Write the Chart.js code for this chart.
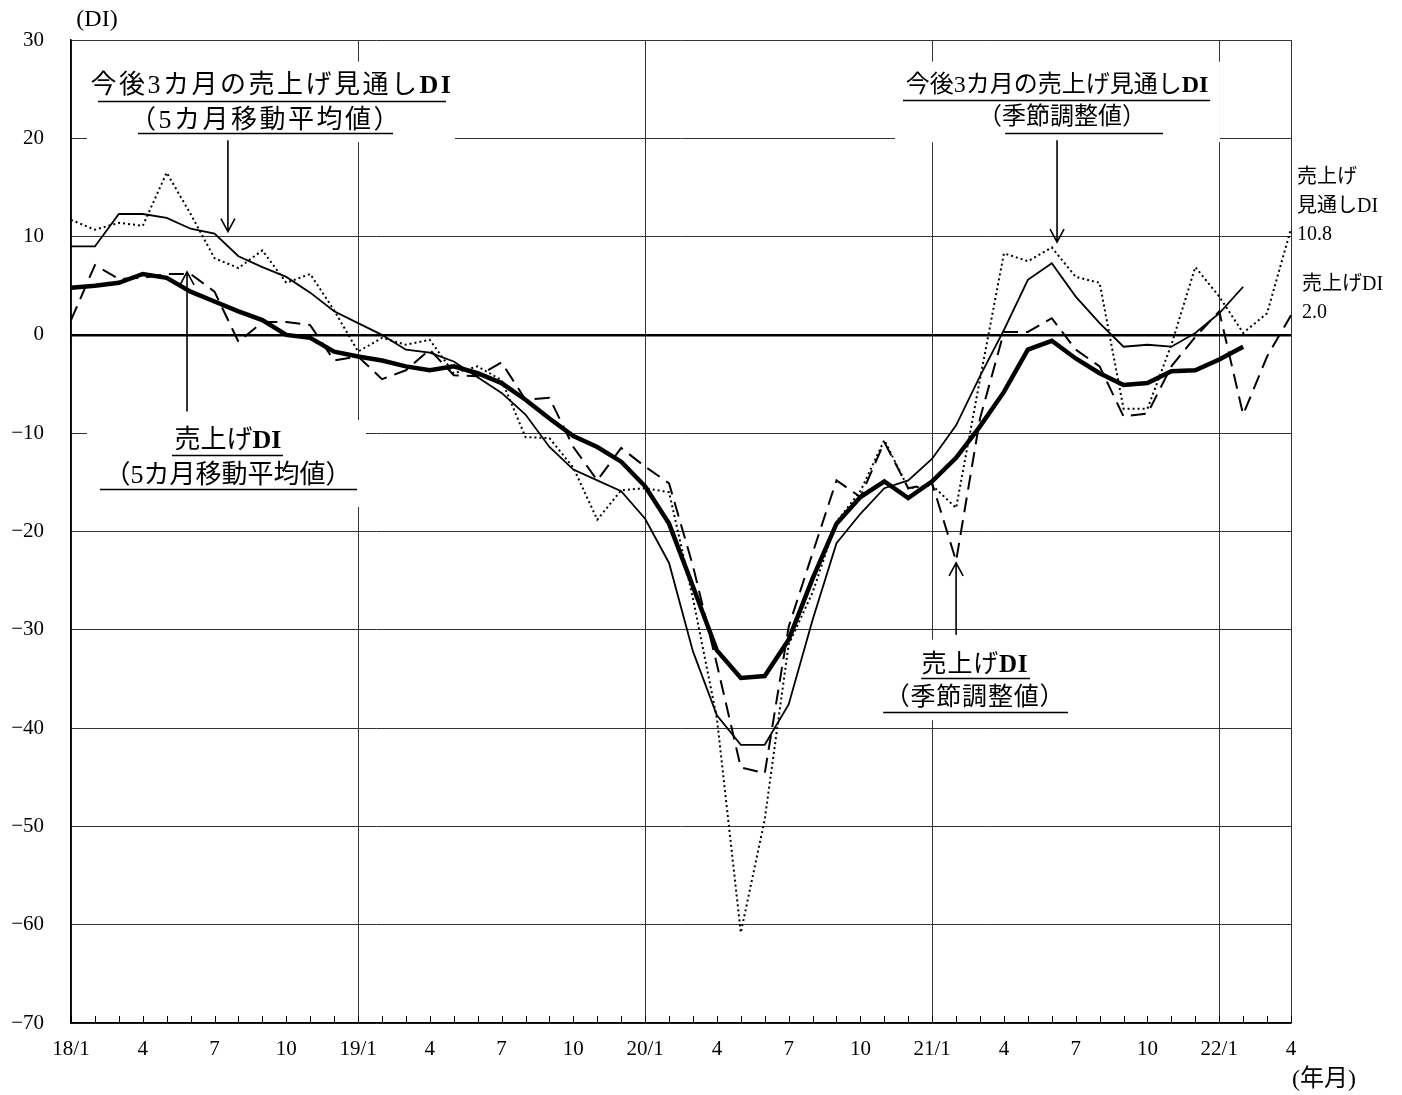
<!DOCTYPE html>
<html lang="ja">
<head>
<meta charset="utf-8">
<title>売上げDI</title>
<script src="https://cdn.jsdelivr.net/npm/chart.js@4.4.1/dist/chart.umd.min.js"></script>
<style>
    html, body { margin: 0; padding: 0; background: #fff; }
    #wrap { width: 1402px; height: 1095px; }
</style>
</head>
<body>
<div id="wrap"><canvas id="chartDI" width="1402" height="1095"></canvas></div>
<script>
// --- DATOS ---

const months = [
    '18/1', '18/2', '18/3', '18/4', '18/5', '18/6', '18/7', '18/8', '18/9', '18/10', '18/11', '18/12',
    '19/1', '19/2', '19/3', '19/4', '19/5', '19/6', '19/7', '19/8', '19/9', '19/10', '19/11', '19/12',
    '20/1', '20/2', '20/3', '20/4', '20/5', '20/6', '20/7', '20/8', '20/9', '20/10', '20/11', '20/12',
    '21/1', '21/2', '21/3', '21/4', '21/5', '21/6', '21/7', '21/8', '21/9', '21/10', '21/11', '21/12',
    '22/1', '22/2', '22/3', '22/4'
];

// 売上げDI（5カ月移動平均値） - thick line
const salesMA = [
    4.8, 5.0, 5.3, 6.2, 5.8, 4.4, 3.4, 2.4, 1.5, 0.0, -0.3, -1.7,
    -2.2, -2.6, -3.2, -3.6, -3.2, -3.9, -4.9, -6.6, -8.5, -10.3, -11.4, -12.9,
    -15.4, -19.2, -25.6, -32.1, -34.9, -34.7, -31.0, -24.8, -19.2, -16.5, -14.9, -16.6,
    -14.9, -12.5, -9.3, -5.8, -1.5, -0.6, -2.4, -3.9, -5.1, -4.9, -3.7, -3.6,
    -2.5, -1.2, null, null
];

// 今後3カ月の売上げ見通しDI（5カ月移動平均値） - thin line
const outlookMA = [
    9.0, 9.0, 12.3, 12.3, 11.9, 10.8, 10.3, 8.0, 6.9, 5.9, 4.3, 2.4,
    1.2, 0.0, -1.5, -1.8, -2.7, -4.3, -5.9, -8.1, -11.4, -13.7, -14.8, -15.9,
    -18.7, -23.2, -32.2, -38.7, -41.7, -41.7, -37.6, -29.0, -21.2, -18.2, -15.6, -14.8,
    -12.6, -9.2, -4.2, 0.5, 5.6, 7.3, 3.9, 1.2, -1.2, -1.0, -1.2, 0.2,
    2.2, 4.9, null, null
];

// 売上げDI（季節調整値） - dashed
const salesSA = [
    1.5, 7.1, 5.7, 5.8, 6.2, 6.2, 4.4, -0.7, 1.3, 1.3, 1.0, -2.6,
    -2.2, -4.5, -3.6, -1.5, -4.1, -4.2, -2.8, -6.6, -6.4, -11.4, -14.8, -11.5,
    -13.4, -15.1, -23.5, -33.5, -44.0, -44.6, -29.7, -22.2, -14.8, -16.5, -10.9, -15.6,
    -15.1, -23.0, -8.5, 0.3, 0.3, 1.7, -1.5, -3.2, -8.3, -8.0, -3.2, -0.2,
    2.4, -8.1, -2.2, 2.0
];

// 今後3カ月の売上げ見通しDI（季節調整値） - dotted
const outlookSA = [
    11.7, 10.7, 11.4, 11.1, 16.5, 12.3, 7.8, 6.8, 8.6, 5.3, 6.2, 2.5,
    -1.7, -0.3, -1.0, -0.5, -3.9, -3.2, -4.6, -10.4, -10.5, -13.5, -18.8, -15.8,
    -15.6, -16.0, -26.8, -39.0, -60.8, -49.3, -31.5, -26.2, -19.0, -15.9, -10.7, -15.6,
    -15.3, -17.6, -4.5, 8.3, 7.5, 8.9, 5.9, 5.3, -7.5, -7.5, -1.0, 6.9,
    3.9, 0.2, 2.2, 10.8
];

const yTicks = [-70, -60, -50, -40, -30, -20, -10, 0, 10, 20, 30];
const tickMonths = ['1', '4', '7', '10'];

// --- ANOTACIONES (posicion en unidades de datos: indice de mes, valor DI) ---

const notes = [
    {
        box: [0.67, 16.05, 27.8, 19.6], size: 26, spacing: 2.5,
        lines: [
            { parts: [['今後3カ月の売上げ見通し', false], ['DI', true]], x: 8.4, y: 25.3, ul: [1.13, 15.68, 23.8] },
            { parts: [['（5カ月移動平均値）', false]], x: 8.15, y: 21.75, ul: [2.8, 13.46, 20.5] }
        ],
        arrow: { x: 6.56, from: 19.8, to: 10.5 }
    },
    {
        box: [0.67, 12.33, -8.66, -17.5], size: 26, spacing: 0,
        lines: [
            { parts: [['売上げ', false], ['DI', true]], x: 6.56, y: -10.8, ul: [4.22, 8.86, -12.2] },
            { parts: [['（5カ月移動平均値）', false]], x: 6.56, y: -14.35, ul: [1.21, 11.96, -15.7] }
        ],
        arrow: { x: 4.85, from: -7.8, to: 6.4 }
    },
    {
        box: [34.45, 48.03, 27.8, 19.6], size: 24, spacing: 0,
        lines: [
            { parts: [['今後3カ月の売上げ見通し', false], ['DI', true]], x: 41.22, y: 25.3, ul: [34.78, 47.62, 23.9] },
            { parts: [['（季節調整値）', false]], x: 41.43, y: 22.07, ul: [39.05, 45.65, 20.5] }
        ],
        arrow: { x: 41.22, from: 19.8, to: 9.45 }
    },
    {
        box: [33.6, 41.97, -31.0, -39.2], size: 25, spacing: 0.8,
        lines: [
            { parts: [['売上げ', false], ['DI', true]], x: 37.79, y: -33.6, ul: [35.54, 40.09, -34.9] },
            { parts: [['（季節調整値）', false]], x: 37.79, y: -37.0, ul: [33.95, 41.68, -38.4] }
        ],
        arrow: { x: 37.0, from: -30.5, to: -23.2 }
    }
];

const FONT = '"Liberation Serif", "Noto Sans CJK JP", serif';

function fontStr(size, bold) {
    return (bold ? 'bold ' : '') + size + 'px ' + FONT;
}

function drawRich(ctx, parts, size, spacing, cx, cy) {
    ctx.letterSpacing = spacing + 'px';
    const widths = parts.map(p => { ctx.font = fontStr(size, p[1]); return ctx.measureText(p[0]).width; });
    let x = cx - widths.reduce((a, b) => a + b, 0) / 2;
    parts.forEach((p, k) => {
        ctx.font = fontStr(size, p[1]);
        ctx.fillText(p[0], x, cy);
        x += widths[k];
    });
    ctx.letterSpacing = '0px';
}

function drawArrow(ctx, x, y1, y2) {
    const dir = y2 > y1 ? 1 : -1;
    ctx.beginPath();
    ctx.moveTo(x, y1);
    ctx.lineTo(x, y2);
    ctx.moveTo(x - 7, y2 - dir * 13);
    ctx.lineTo(x, y2);
    ctx.lineTo(x + 7, y2 - dir * 13);
    ctx.stroke();
}

// minor ticks hacia dentro, cajas blancas y textos
const decorPlugin = {
    id: 'decor',
    beforeDatasetsDraw(chart) {
        const ctx = chart.ctx;
        const xs = chart.scales.x, ys = chart.scales.y;
        const area = chart.chartArea;
        ctx.save();
        ctx.strokeStyle = '#000';
        ctx.lineWidth = 1;
        months.forEach((m, i) => {
            const x = Math.round(xs.getPixelForValue(i)) + 0.5;
            ctx.beginPath();
            ctx.moveTo(x, area.bottom);
            ctx.lineTo(x, area.bottom - 7);
            ctx.stroke();
        });

        notes.forEach(n => {
            const x1 = xs.getPixelForValue(n.box[0]), x2 = xs.getPixelForValue(n.box[1]);
            const y1 = ys.getPixelForValue(n.box[2]), y2 = ys.getPixelForValue(n.box[3]);
            ctx.fillStyle = '#fff';
            ctx.fillRect(x1, y1, x2 - x1, y2 - y1);
        });
        ctx.restore();
    },
    afterDatasetsDraw(chart) {
        const ctx = chart.ctx;
        const xs = chart.scales.x, ys = chart.scales.y;
        const area = chart.chartArea;
        ctx.save();
        ctx.fillStyle = '#000';
        ctx.strokeStyle = '#000';
        ctx.textBaseline = 'middle';
        ctx.textAlign = 'left';

        notes.forEach(n => {
            n.lines.forEach(l => {
                drawRich(ctx, l.parts, n.size, n.spacing, xs.getPixelForValue(l.x), ys.getPixelForValue(l.y));
                const uy = Math.round(ys.getPixelForValue(l.ul[2])) + 0.5;
                ctx.lineWidth = 1.3;
                ctx.beginPath();
                ctx.moveTo(xs.getPixelForValue(l.ul[0]), uy);
                ctx.lineTo(xs.getPixelForValue(l.ul[1]), uy);
                ctx.stroke();
            });
            ctx.lineWidth = 1.6;
            drawArrow(ctx, xs.getPixelForValue(n.arrow.x), ys.getPixelForValue(n.arrow.from), ys.getPixelForValue(n.arrow.to));
        });

        // rotulos a la derecha del grafico
        const rx = area.right + 6;
        ctx.font = fontStr(20, false);
        ctx.fillText('売上げ', rx, ys.getPixelForValue(16.0));
        ctx.fillText('見通しDI', rx, ys.getPixelForValue(13.0));
        ctx.fillText(outlookSA[outlookSA.length - 1].toFixed(1), rx, ys.getPixelForValue(10.2));
        ctx.fillText('売上げDI', rx + 5, ys.getPixelForValue(5.1));
        ctx.fillText(salesSA[salesSA.length - 1].toFixed(1), rx + 5, ys.getPixelForValue(2.3));

        // unidades
        ctx.textAlign = 'center';
        ctx.font = fontStr(24, false);
        ctx.fillText('(DI)', area.left + 26, area.top - 20);
        ctx.fillText('(年月)', area.right + 33, area.bottom + 57);
        ctx.restore();
    }
};

const ctx = document.getElementById('chartDI').getContext('2d');
new Chart(ctx, {
    type: 'line',
    data: {
        labels: months,
        datasets: [
            {
                label: '売上げDI（5カ月移動平均値）',
                data: salesMA,
                borderColor: '#000', borderWidth: 4.5,
                pointRadius: 0, tension: 0, spanGaps: false
            },
            {
                label: '今後3カ月の売上げ見通しDI（5カ月移動平均値）',
                data: outlookMA,
                borderColor: '#000', borderWidth: 1.8,
                pointRadius: 0, tension: 0
            },
            {
                label: '売上げDI（季節調整値）',
                data: salesSA,
                borderColor: '#000', borderWidth: 2, borderDash: [15, 8],
                pointRadius: 0, tension: 0
            },
            {
                label: '今後3カ月の売上げ見通しDI（季節調整値）',
                data: outlookSA,
                borderColor: '#000', borderWidth: 2, borderDash: [2, 3],
                pointRadius: 0, tension: 0
            }
        ]
    },
    options: {
        responsive: false,
        animation: false,
        layout: { padding: { top: 40, right: 111, left: 0, bottom: 0 } },
        plugins: {
            legend: { display: false },
            tooltip: { enabled: false }
        },
        scales: {
            x: {
                offset: false,
                grid: {
                    color: c => (c.index % 12 === 0 || c.index === months.length - 1) ? '#333' : 'rgba(0,0,0,0)',
                    lineWidth: 1,
                    drawTicks: false
                },
                border: { color: '#000', width: 1.5 },
                ticks: {
                    autoSkip: false, maxRotation: 0, padding: 14,
                    color: '#000',
                    font: { family: FONT, size: 21 },
                    callback: function (v, i) {
                        const mm = months[i].split('/')[1];
                        if (mm === '1') return months[i];
                        return tickMonths.includes(mm) ? mm : '';
                    }
                },
                afterFit: s => { s.height = 72; }
            },
            y: {
                min: yTicks[0], max: yTicks[yTicks.length - 1],
                afterBuildTicks: s => { s.ticks = yTicks.map(v => ({ value: v })); },
                grid: {
                    color: c => c.tick && c.tick.value === 0 ? '#000' : '#333',
                    lineWidth: c => c.tick && c.tick.value === 0 ? 2.5 : 1,
                    drawTicks: false
                },
                border: { color: '#000', width: 1.5 },
                ticks: {
                    padding: 27,
                    color: '#000',
                    font: { family: FONT, size: 21 },
                    callback: v => v < 0 ? '\u2212' + Math.abs(v) : String(v)
                },
                afterFit: s => { s.width = 71; }
            }
        }
    },
    plugins: [decorPlugin]
});
</script>
</body>
</html>
